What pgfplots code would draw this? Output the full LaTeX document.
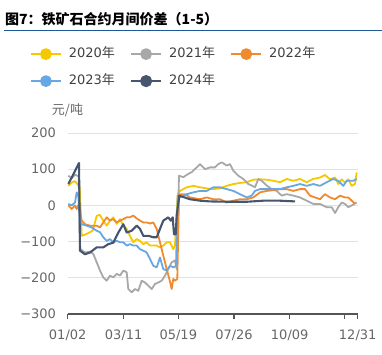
\documentclass[border=0pt]{standalone}
\usepackage{pgfplots}
\pgfplotsset{compat=1.18}
\usepackage{fontspec}
\setmainfont{DejaVu Sans}
\newfontfamily\cjk{Noto Sans CJK SC}
\definecolor{cA}{HTML}{F5C800}
\definecolor{cB}{HTML}{A8A8A8}
\definecolor{cC}{HTML}{F08A2E}
\definecolor{cD}{HTML}{68A7E3}
\definecolor{cE}{HTML}{46566F}
\definecolor{gridc}{HTML}{DCE1EC}
\definecolor{axc}{HTML}{555555}
\definecolor{tickc}{HTML}{666666}
\definecolor{legc}{HTML}{404040}
\definecolor{rulec}{HTML}{1F5A96}
\begin{document}
\begin{tikzpicture}[x=1pt,y=1pt]
\path[use as bounding box] (0,0) rectangle (382,355);
\node[anchor=west,inner sep=0pt,font={\cjk\bfseries\fontsize{14}{16}\selectfont}] at (5,336) {图7：铁矿石合约月间价差（1-5）};
\draw[rulec,line width=0.9pt] (4,324.3) -- (382,324.3);
\node[inner sep=0pt,text=tickc,font={\cjk\fontsize{13}{15}\selectfont}] at (67.5,245) {元/吨};
\begin{axis}[
  at={(67.7pt,41pt)}, anchor=south west,
  scale only axis, width=290pt, height=181pt,
  xmin=0, xmax=290, ymin=-300, ymax=200,
  axis lines=left,
  axis line style={-},
  x axis line style={color=axc,line width=1.2pt},
  y axis line style={draw=none},
  ytick={-300,-200,-100,0,100,200},
  yticklabels={−300,−200,−100,0,100,200},
  xtick={0,56,110.6,166.3,222,277,290},
  xticklabels={01/02,03/11,05/19,07/26,10/09,,12/31},
  xtick align=outside,
  x tick style={color=axc,line width=1.1pt},
  major tick length=5pt,
  y tick style={draw=none},
  ymajorgrids,
  grid style={color=gridc,line width=0.9pt},
  tick label style={text=tickc,font={\fontsize{13}{15}\selectfont}},
  yticklabel style={inner sep=0pt,xshift=-9pt},
  xticklabel style={inner sep=0pt,yshift=-11pt},
  legend columns=3,
  legend style={at={(-0.142,1.484)},anchor=north west,draw=none,fill=none,
    font={\fontsize{13}{15}\selectfont},text=legc,
    nodes={inner sep=0pt,text height=10pt,text depth=3pt},
    row sep=14pt,
    /tikz/every odd column/.append style={column sep=6.7pt},
    /tikz/every even column/.append style={column sep=15pt}},
  legend image code/.code={\draw[line width=2.4pt](0pt,0pt)--(30pt,0pt); \fill (15pt,0pt) circle (5pt);},
  every axis plot/.append style={line width=1.8pt,line join=round},
]
\addplot[color=cA] coordinates {(0.6,54)(4,63)(7.3,67)(10,58)(12,50)(14,-84)(18,-80)(25,-70)(29,-29)(32,-26)(35.6,-42)(39,-56)(42.3,-42)(45.6,-33)(49,-51)(52.3,-38)(55.6,-56)(59,-65)(62.3,-84)(65.6,-102)(69,-93)(72.3,-98)(75.6,-107)(79,-102)(82.3,-111)(85.6,-111)(89,-111)(92.3,-116)(95.6,-111)(99,-102)(102.3,-102)(105.6,-121)(107.3,-111)(110,31)(112.3,40)(119,50)(125.6,54)(132.3,50)(139,47)(145.6,45)(152.3,47)(159,54)(165.6,59)(172.3,62)(179,64)(185.6,71)(192.3,72)(199,71)(205.6,68)(212.3,64)(219,73)(225.6,68)(232.3,73)(239,64)(245.6,73)(252.3,77)(257.3,84)(262.3,72)(267.3,77)(270.6,59)(274,72)(277.3,63)(280.6,72)(284,54)(287.3,59)(289,91)};
\addlegendentry{2020{\cjk 年}}
\addplot[color=cB] coordinates {(0.6,82)(4,75)(7.3,85)(11,80)(12.3,-120)(17.3,-130)(22.3,-128)(25.6,-134)(29,-157)(32.3,-180)(35.6,-199)(39,-208)(42.3,-194)(45.6,-199)(49,-189)(52.3,-194)(55.6,-180)(59,-185)(60.6,-231)(64,-240)(67.3,-231)(70.6,-236)(74,-208)(77.3,-213)(80.6,-222)(84,-231)(87.3,-217)(90.6,-213)(94,-208)(97.3,-194)(100.6,-176)(104,-157)(107.3,-152)(109,-176)(111.3,82)(115.6,78)(120.6,87)(124,92)(129,105)(132.3,114)(137.3,100)(142.3,105)(147.3,105)(150.6,114)(154,119)(159,110)(162.3,114)(165.6,96)(170.6,82)(175.6,73)(180.6,59)(184,55)(187.3,50)(190.6,73)(194,68)(199,55)(204,45)(209,40)(214,27)(219,31)(225.6,27)(232.3,22)(239,13)(245.6,4)(252.3,4)(259,-5)(264,-5)(267.3,-21)(270.6,-5)(274,8)(277.3,4)(280.6,-5)(284,0)(289,8)};
\addlegendentry{2021{\cjk 年}}
\addplot[color=cC] coordinates {(0.6,0)(4,-10)(7.3,0)(9,-10)(11.3,4)(14,-42)(17.3,-52)(22.3,-56)(29,-56)(32.3,-61)(35.6,-47)(39,-33)(42.3,-42)(45.6,-38)(49,-47)(52.3,-42)(55.6,-38)(59,-33)(62.3,-33)(65.6,-28)(69,-36)(72.3,-42)(75.6,-47)(79,-47)(82.3,-50)(85.6,-47)(89,-65)(92.3,-102)(95.6,-139)(99,-176)(101.6,-203)(104,-231)(105.6,-203)(107.3,-208)(109.6,-203)(111.3,27)(112.3,31)(117.3,31)(122.3,22)(132.3,17)(139,22)(145.6,17)(152.3,17)(159,8)(165.6,13)(172.3,17)(179,17)(185.6,22)(192.3,36)(199,40)(205.6,42)(212.3,45)(219,45)(225.6,40)(232.3,45)(237.3,45)(242.3,27)(247.3,22)(252.3,17)(257.3,31)(262.3,22)(267.3,17)(272.3,27)(277.3,22)(280.6,22)(284,13)(287.3,4)};
\addlegendentry{2022{\cjk 年}}
\addplot[color=cD] coordinates {(0.6,4)(4,0)(7.3,8)(9,36)(10.6,27)(12.3,-47)(14,-52)(19,-56)(24,-61)(29,-70)(32.3,-74)(35.6,-88)(39,-98)(42.3,-93)(45.6,-102)(49,-98)(52.3,-102)(55.6,-102)(59,-111)(62.3,-107)(65.6,-111)(69,-111)(72.3,-121)(75.6,-125)(79,-130)(82.3,-148)(85.6,-167)(89,-171)(92.3,-144)(95.6,-176)(99,-180)(102.3,-167)(105.6,-171)(108.3,-167)(110,27)(112.3,22)(119,31)(125.6,36)(132.3,40)(139,40)(145.6,50)(152.3,50)(159,45)(165.6,40)(172.3,31)(179,22)(184,27)(187.3,40)(192.3,45)(199,45)(205.6,45)(212.3,45)(219,50)(225.6,54)(232.3,59)(239,54)(245.6,59)(252.3,54)(259,64)(265.6,73)(270.6,68)(275.6,54)(279,68)(285.6,68)(289,73)};
\addlegendentry{2023{\cjk 年}}
\addplot[color=cE,line width=2.1pt] coordinates {(0.6,59)(4,77)(7.3,95)(11.3,117)(12.3,-125)(17.3,-135)(22.3,-130)(29,-116)(35.6,-116)(40.6,-107)(45.6,-103)(50.6,-75)(55.6,-52)(59,-75)(64,-70)(69,-56)(72.3,-65)(75.6,-84)(80.6,-84)(85.6,-88)(89,-88)(92.3,-65)(95.6,-42)(100.6,-33)(103,-42)(105,-33)(106.3,-80)(108,-80)(109,-28)(111.6,27)(122.3,17)(132.3,13)(142.3,11)(162.3,10)(179,10)(195.6,13)(212.3,13)(227.3,11)};
\addlegendentry{2024{\cjk 年}}
\end{axis}
\end{tikzpicture}
\end{document}
